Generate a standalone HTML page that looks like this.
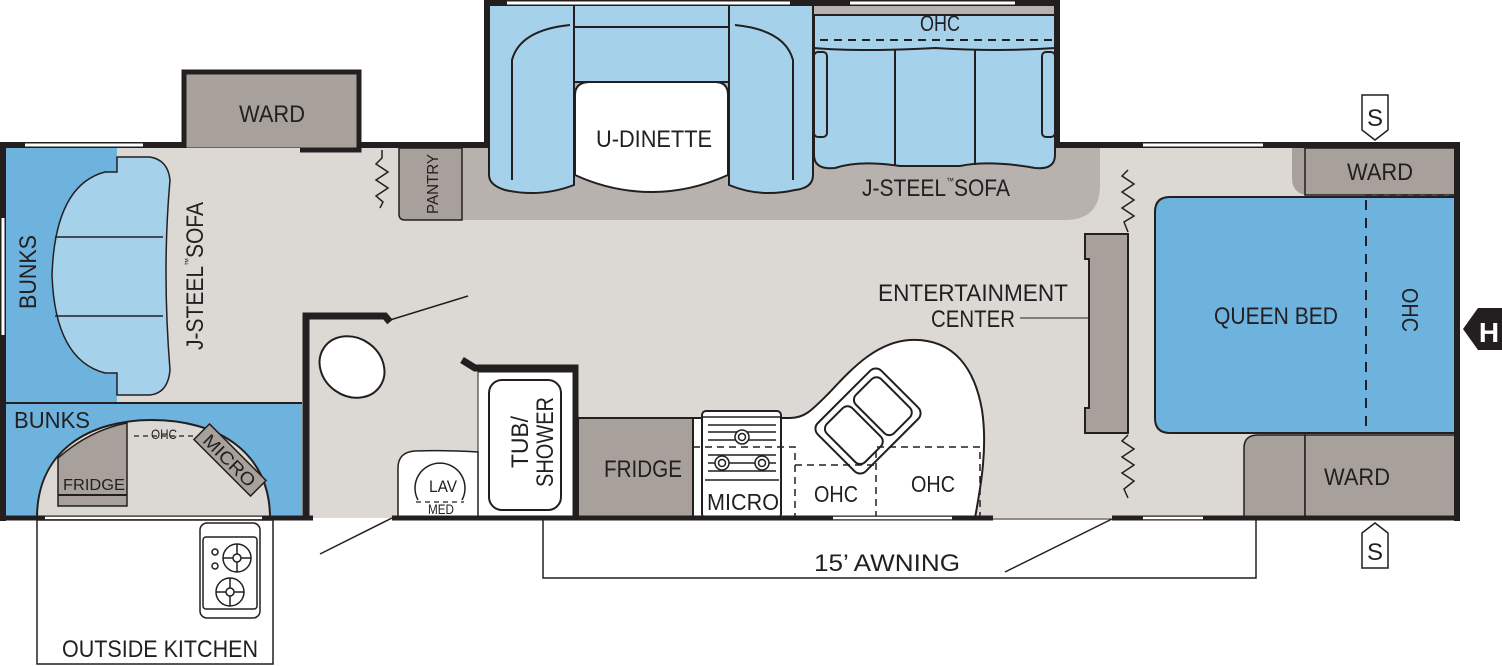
<!DOCTYPE html>
<html><head><meta charset="utf-8"><style>
html,body{margin:0;padding:0;background:#fff;}
svg{display:block;}
text{font-family:"Liberation Sans Narrow","Liberation Sans",sans-serif;fill:#231f20;}
</style></head><body>
<svg width="1502" height="666" viewBox="0 0 1502 666" xmlns="http://www.w3.org/2000/svg">
<rect x="5" y="148" width="1452" height="370" fill="#dcd9d4"/>
<path d="M462,148 H1100 V185 Q1100,220 1065,220 H462 Z" fill="#b7b2ad"/>
<rect x="487" y="3" width="570" height="145" fill="#b7b2ad"/>
<g stroke="#231f20" stroke-width="2" fill="#a6d1ea">
<path d="M489,5 H574 V185 Q540,198 505,190 Q489,185 489,175 Z"/>
<path d="M512,180 V60 Q520,30 570,25" fill="none"/>
<rect x="574" y="5" width="155" height="22"/>
<rect x="574" y="27" width="155" height="55"/>
<path d="M729,5 H813 V175 Q813,188 795,190 Q760,198 729,185 Z"/>
<path d="M793,180 V60 Q785,30 735,25" fill="none"/>
<path d="M575,95 Q575,82 590,82 H715 Q728,82 728,95 V175 Q690,192 652,192 Q612,192 575,175 Z" fill="#fff"/>
<path d="M814,15 H1055 V155 Q1055,170 1035,168 Q990,160 960,166 H900 Q860,160 835,168 Q814,170 814,155 Z"/>
<path d="M814,48 Q860,52 935,48 Q1000,52 1055,48" fill="none"/>
<line x1="895" y1="50" x2="895" y2="165"/>
<line x1="975" y1="50" x2="975" y2="165"/>
<rect x="814" y="52" width="13" height="85" rx="4"/>
<rect x="1042" y="52" width="13" height="85" rx="4"/>
</g>
<line x1="820" y1="40" x2="1052" y2="40" stroke="#231f20" stroke-width="2" stroke-dasharray="8,6"/>
<path d="M487,148 V3 H1057 V148" fill="none" stroke="#231f20" stroke-width="6"/>
<line x1="507" y1="3" x2="790" y2="3" stroke="#fff" stroke-width="3"/>
<line x1="850" y1="3" x2="1015" y2="3" stroke="#fff" stroke-width="3"/>
<rect x="184" y="72" width="175" height="78" fill="#a8a19b" stroke="#231f20" stroke-width="5"/>
<path d="M399,148 H462 V220 H405 Q399,220 399,214 Z" fill="#a8a19b" stroke="#231f20" stroke-width="1.5"/>
<polyline points="382,150 382,158 376,164 388,172 376,180 388,188 376,196 383,202 380,208" fill="none" stroke="#231f20" stroke-width="1.5"/>
<rect x="5" y="148" width="295" height="257" fill="#dcd9d4"/>
<rect x="5" y="148" width="112" height="257" fill="#6db3de"/>
<rect x="5" y="403" width="297" height="115" fill="#6db3de"/>
<line x1="5" y1="403" x2="302" y2="403" stroke="#231f20" stroke-width="2"/>
<path d="M117,157 H150 Q168,160 170,180 Q162,270 170,370 Q168,393 150,395 H117 V373 H105 Q55,360 52,275 Q55,185 105,172 H117 Z" fill="#a6d1ea" stroke="#231f20" stroke-width="1.5"/>
<line x1="55" y1="237" x2="163" y2="237" stroke="#231f20" stroke-width="1.5"/>
<line x1="55" y1="316" x2="163" y2="316" stroke="#231f20" stroke-width="1.5"/>
<path d="M37,518 C37,450 90,420 152,420 C215,420 270,450 270,518 Z" fill="#dcd9d4" stroke="#231f20" stroke-width="2"/>
<path d="M58,458 Q90,430 127,423 V506 H58 Z" fill="#a8a19b" stroke="#231f20" stroke-width="1.5"/>
<line x1="58" y1="495" x2="127" y2="495" stroke="#231f20" stroke-width="2"/>
<g transform="translate(230,460) rotate(45)"><rect x="-40" y="-11" width="80" height="22" fill="#a8a19b" stroke="#231f20" stroke-width="1.5"/><text x="0" y="7" font-size="18" text-anchor="middle" textLength="66" lengthAdjust="spacingAndGlyphs">MICRO</text></g>
<line x1="134" y1="436" x2="194" y2="436" stroke="#231f20" stroke-width="1.2" stroke-dasharray="5,4"/>
<path d="M306,518 V316 H385 L390,322" fill="none" stroke="#231f20" stroke-width="7"/>
<line x1="390" y1="320" x2="468" y2="296" stroke="#231f20" stroke-width="1.5"/>
<path d="M462,360 L475,368 H575 V518" fill="none" stroke="#231f20" stroke-width="7"/>
<rect x="478" y="372" width="95" height="146" fill="#fff" stroke="#231f20" stroke-width="1"/>
<rect x="489" y="380" width="72" height="130" rx="13" fill="#fff" stroke="#231f20" stroke-width="2"/>
<ellipse cx="352" cy="367" rx="34" ry="29" transform="rotate(35 352 367)" fill="#fff" stroke="#231f20" stroke-width="2"/>
<path d="M398,518 V468 Q398,452 415,451 Q445,450 478,452 V518 Z" fill="#fff" stroke="#231f20" stroke-width="1.5"/>
<path d="M418,500 A25,25 0 1 1 462,500" fill="none" stroke="#231f20" stroke-width="1.5"/>
<line x1="416" y1="502" x2="464" y2="502" stroke="#231f20" stroke-width="1.2" stroke-dasharray="5,4"/>
<path d="M693,418 H790 C805,418 812,410 830,392 C855,365 878,342 910,340 C955,338 975,370 982,410 C988,450 980,490 975,518 H693 Z" fill="#fff" stroke="#231f20" stroke-width="2"/>
<rect x="578" y="418" width="115" height="100" fill="#a8a19b" stroke="#231f20" stroke-width="2"/>
<rect x="702" y="411" width="79" height="107" rx="4" fill="#fff" stroke="#231f20" stroke-width="2"/>
<line x1="702" y1="417" x2="781" y2="417" stroke="#231f20" stroke-width="1.5"/>
<g stroke="#231f20" stroke-width="1.5">
<line x1="708" y1="425" x2="776" y2="425"/><line x1="708" y1="432" x2="776" y2="432"/><line x1="708" y1="440" x2="776" y2="440"/>
<line x1="708" y1="455" x2="776" y2="455"/><line x1="708" y1="463" x2="776" y2="463"/><line x1="708" y1="471" x2="776" y2="471"/><line x1="705" y1="480" x2="779" y2="480"/>
</g>
<g fill="#fff" stroke="#231f20" stroke-width="1.5">
<circle cx="742" cy="437" r="7"/><circle cx="742" cy="437" r="3.5"/>
<circle cx="722" cy="463" r="7"/><circle cx="722" cy="463" r="3.5"/>
<circle cx="762" cy="463" r="7"/><circle cx="762" cy="463" r="3.5"/>
</g>
<g transform="translate(868,421) rotate(-45)" fill="#fff" stroke="#231f20" stroke-width="2">
<rect x="-45" y="-34" width="90" height="68" rx="8"/>
<rect x="-38" y="-27" width="36" height="54" rx="7"/>
<rect x="3" y="-27" width="36" height="54" rx="7"/>
</g>
<g fill="none" stroke="#231f20" stroke-width="1.5" stroke-dasharray="7,5">
<path d="M693,447 H795 V518"/><path d="M795,465 H876"/><path d="M876,518 V447 H980 V518"/>
</g>
<polyline points="1128,170 1122,176 1134,184 1122,192 1134,200 1122,208 1134,216 1124,222 1128,232" fill="none" stroke="#231f20" stroke-width="1.5"/>
<polyline points="1128,435 1122,441 1134,449 1122,457 1134,465 1122,473 1134,481 1124,489 1128,498" fill="none" stroke="#231f20" stroke-width="1.5"/>
<path d="M1085,234 H1128 V433 H1085 V408 H1089 V259 H1085 Z" fill="#a8a19b" stroke="#231f20" stroke-width="2"/>
<line x1="1020" y1="318" x2="1089" y2="318" stroke="#231f20" stroke-width="1"/>
<path d="M1292,148 H1305 V195 Q1292,192 1292,178 Z" fill="#a8a19b"/>
<rect x="1305" y="148" width="152" height="47" fill="#a8a19b" stroke="#231f20" stroke-width="1.5"/>
<line x1="1365" y1="195" x2="1455" y2="195" stroke="#231f20" stroke-width="1.5" stroke-dasharray="7,5"/>
<path d="M1170,197 H1455 V433 H1170 Q1155,433 1155,418 V212 Q1155,197 1170,197 Z" fill="#6db3de" stroke="#231f20" stroke-width="2"/>
<line x1="1366" y1="200" x2="1366" y2="432" stroke="#231f20" stroke-width="2" stroke-dasharray="10,8"/>
<path d="M1244,518 V448 Q1244,435 1258,435 H1305 V518 Z" fill="#a8a19b" stroke="#231f20" stroke-width="1.5"/>
<rect x="1305" y="435" width="152" height="83" fill="#a8a19b" stroke="#231f20" stroke-width="1.5"/>
<path d="M0,145 H184 M359,145 H487 M1057,145 H1460" stroke="#231f20" stroke-width="6" fill="none"/>
<line x1="25" y1="145" x2="143" y2="145" stroke="#fff" stroke-width="3"/>
<line x1="1143" y1="145" x2="1263" y2="145" stroke="#fff" stroke-width="3"/>
<line x1="3" y1="145" x2="3" y2="521" stroke="#231f20" stroke-width="6"/>
<line x1="3" y1="218" x2="3" y2="335" stroke="#fff" stroke-width="3"/>
<line x1="1457" y1="145" x2="1457" y2="521" stroke="#231f20" stroke-width="6"/>
<path d="M0,518 H313 M392,518 H993 M1112,518 H1460" stroke="#231f20" stroke-width="5" fill="none"/>
<line x1="45" y1="518" x2="262" y2="518" stroke="#fff" stroke-width="2.5"/>
<line x1="833" y1="518" x2="952" y2="518" stroke="#fff" stroke-width="2.5"/>
<line x1="1143" y1="518" x2="1203" y2="518" stroke="#fff" stroke-width="2.5"/>
<line x1="993" y1="519" x2="1112" y2="519" stroke="#231f20" stroke-width="1"/>
<line x1="320" y1="554" x2="392" y2="518" stroke="#231f20" stroke-width="1.5"/>
<line x1="1005" y1="572" x2="1112" y2="519" stroke="#231f20" stroke-width="1.5"/>
<path d="M543,520 V578 H1256 V520" fill="none" stroke="#231f20" stroke-width="1.5"/>
<rect x="37" y="520" width="236" height="144" fill="none" stroke="#231f20" stroke-width="1.5"/>
<rect x="200" y="523" width="60" height="95" rx="7" fill="#fff" stroke="#231f20" stroke-width="1.5"/>
<rect x="203" y="537" width="54" height="72" rx="3" fill="none" stroke="#231f20" stroke-width="1.5"/>
<g fill="none" stroke="#231f20" stroke-width="1.5">
<circle cx="237" cy="558" r="14"/><circle cx="237" cy="558" r="4"/>
<circle cx="230" cy="592" r="14"/><circle cx="230" cy="592" r="4"/>
<path d="M237,544 V554 M237,562 V572 M223,558 H233 M241,558 H251"/>
<path d="M230,578 V588 M230,596 V606 M216,592 H226 M234,592 H244"/>
<circle cx="215" cy="552" r="3"/><circle cx="215" cy="566" r="3"/>
</g>
<path d="M1362,95 H1388 V130 L1375,140 L1362,130 Z" fill="#fff" stroke="#231f20" stroke-width="1.5"/>
<path d="M1362,568 H1388 V533 L1375,523 L1362,533 Z" fill="#fff" stroke="#231f20" stroke-width="1.5"/>
<path d="M1502,308 H1478 L1463,329 L1478,350 H1502 Z" fill="#231f20"/>
<text x="1489" y="342" font-size="28" font-weight="bold" text-anchor="middle" style="fill:#fff">H</text>
<text x="1375" y="126" font-size="24" text-anchor="middle">S</text>
<text x="1375" y="560" font-size="24" text-anchor="middle">S</text>
<g font-size="24">
<text x="272" y="122" text-anchor="middle" textLength="66" lengthAdjust="spacingAndGlyphs">WARD</text>
<text x="654" y="147" text-anchor="middle" textLength="116" lengthAdjust="spacingAndGlyphs">U-DINETTE</text>
<text x="940" y="31" text-anchor="middle" font-size="22" textLength="40" lengthAdjust="spacingAndGlyphs">OHC</text>
<text x="862" y="196" textLength="148" lengthAdjust="spacingAndGlyphs">J-STEEL<tspan font-size="9" dy="-12">™</tspan><tspan dy="12">SOFA</tspan></text>
<text transform="translate(36,272) rotate(-90)" text-anchor="middle" textLength="74" lengthAdjust="spacingAndGlyphs">BUNKS</text>
<text transform="translate(203,350) rotate(-90)" textLength="148" lengthAdjust="spacingAndGlyphs">J-STEEL<tspan font-size="9" dy="-12">™</tspan><tspan dy="12">SOFA</tspan></text>
<text transform="translate(438,184) rotate(-90)" text-anchor="middle" font-size="16" textLength="60" lengthAdjust="spacingAndGlyphs">PANTRY</text>
<text x="14" y="428" font-size="23" textLength="76" lengthAdjust="spacingAndGlyphs">BUNKS</text>
<text x="63" y="490" font-size="16" textLength="62" lengthAdjust="spacingAndGlyphs">FRIDGE</text>
<text x="164" y="439" font-size="14" text-anchor="middle" textLength="26" lengthAdjust="spacingAndGlyphs">OHC</text>
<text transform="translate(528,442) rotate(-90)" text-anchor="middle" textLength="52" lengthAdjust="spacingAndGlyphs">TUB/</text>
<text transform="translate(553,442) rotate(-90)" text-anchor="middle" textLength="90" lengthAdjust="spacingAndGlyphs">SHOWER</text>
<text x="443" y="492" font-size="17" text-anchor="middle" textLength="28" lengthAdjust="spacingAndGlyphs">LAV</text>
<text x="441" y="514" font-size="14" text-anchor="middle" textLength="26" lengthAdjust="spacingAndGlyphs">MED</text>
<text x="643" y="477" text-anchor="middle" textLength="78" lengthAdjust="spacingAndGlyphs">FRIDGE</text>
<text x="743" y="510" font-size="23" text-anchor="middle" textLength="72" lengthAdjust="spacingAndGlyphs">MICRO</text>
<text x="836" y="502" font-size="23" text-anchor="middle" textLength="44" lengthAdjust="spacingAndGlyphs">OHC</text>
<text x="933" y="492" font-size="23" text-anchor="middle" textLength="44" lengthAdjust="spacingAndGlyphs">OHC</text>
<text x="973" y="301" text-anchor="middle" textLength="190" lengthAdjust="spacingAndGlyphs">ENTERTAINMENT</text>
<text x="973" y="327" text-anchor="middle" textLength="84" lengthAdjust="spacingAndGlyphs">CENTER</text>
<text x="1276" y="324" text-anchor="middle" textLength="124" lengthAdjust="spacingAndGlyphs">QUEEN BED</text>
<text transform="translate(1402,310) rotate(90)" text-anchor="middle" font-size="23" textLength="44" lengthAdjust="spacingAndGlyphs">OHC</text>
<text x="1380" y="180" text-anchor="middle" textLength="66" lengthAdjust="spacingAndGlyphs">WARD</text>
<text x="1357" y="485" text-anchor="middle" textLength="66" lengthAdjust="spacingAndGlyphs">WARD</text>
<text x="887" y="571" text-anchor="middle" textLength="146" lengthAdjust="spacingAndGlyphs">15’ AWNING</text>
<text x="160" y="657" text-anchor="middle" textLength="196" lengthAdjust="spacingAndGlyphs">OUTSIDE KITCHEN</text>
</g>
</svg>
</body></html>
